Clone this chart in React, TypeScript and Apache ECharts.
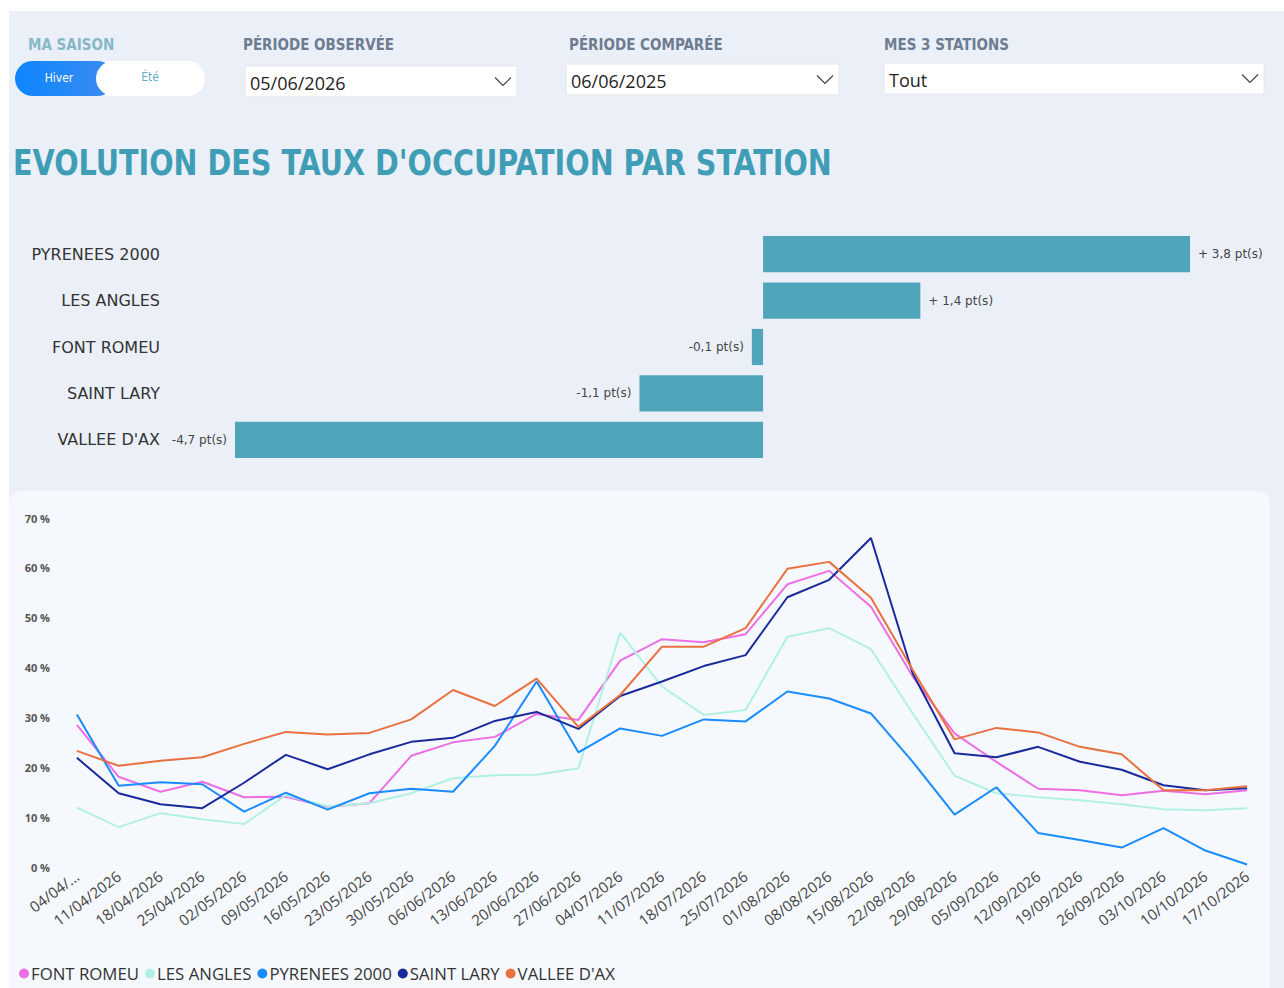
import React, { useEffect, useRef } from "react";
import * as echarts from "echarts";

const stations = ["PYRENEES 2000", "LES ANGLES", "FONT ROMEU", "SAINT LARY", "VALLEE D'AX"];
const deltas = [3.8, 1.4, -0.1, -1.1, -4.7];

const weeks = [
  "04/04/2026", "11/04/2026", "18/04/2026", "25/04/2026", "02/05/2026", "09/05/2026",
  "16/05/2026", "23/05/2026", "30/05/2026", "06/06/2026", "13/06/2026", "20/06/2026",
  "27/06/2026", "04/07/2026", "11/07/2026", "18/07/2026", "25/07/2026", "01/08/2026",
  "08/08/2026", "15/08/2026", "22/08/2026", "29/08/2026", "05/09/2026", "12/09/2026",
  "19/09/2026", "26/09/2026", "03/10/2026", "10/10/2026", "17/10/2026",
];

const fontRomeu = [28.5, 18.1, 15.1, 17.1, 14.0, 14.1, 12.1, 12.8, 22.3, 25.0, 26.1, 30.7, 29.5, 41.4, 45.7, 45.1, 46.7, 56.7, 59.4, 52.2, 38.2, 26.8, 21.1, 15.7, 15.4, 14.4, 15.3, 14.6, 15.4];
const lesAngles = [11.9, 8.0, 10.8, 9.6, 8.6, 14.4, 12.2, 12.8, 14.8, 17.8, 18.4, 18.5, 19.8, 47.0, 36.2, 30.5, 31.5, 46.2, 47.9, 43.7, 30.8, 18.3, 14.8, 14.0, 13.4, 12.6, 11.6, 11.4, 11.8];
const pyrenees2000 = [30.6, 16.3, 17.0, 16.6, 11.1, 14.9, 11.5, 14.8, 15.7, 15.1, 24.3, 37.2, 23.0, 27.8, 26.3, 29.6, 29.2, 35.2, 33.8, 30.8, 21.1, 10.5, 16.0, 6.8, 5.4, 3.9, 7.8, 3.3, 0.5];
const saintLary = [21.9, 14.8, 12.6, 11.8, 16.9, 22.5, 19.6, 22.6, 25.1, 25.9, 29.3, 31.1, 27.7, 34.3, 37.2, 40.3, 42.5, 54.1, 57.6, 66.0, 38.8, 22.8, 22.0, 24.1, 21.1, 19.5, 16.4, 15.4, 15.8];
const valleeDAx = [23.3, 20.3, 21.3, 22.0, 24.7, 27.1, 26.6, 26.9, 29.6, 35.5, 32.3, 37.8, 28.1, 34.5, 44.2, 44.2, 47.9, 59.8, 61.2, 54.0, 39.5, 25.6, 27.9, 27.0, 24.1, 22.6, 15.4, 15.4, 16.2];

const yTicks = [0, 70, 10];

const seriesDefs = [
  { name: "FONT ROMEU", data: fontRomeu, color: "#EC6FE4" },
  { name: "LES ANGLES", data: lesAngles, color: "#B2F0E4" },
  { name: "PYRENEES 2000", data: pyrenees2000, color: "#1A8CFF" },
  { name: "SAINT LARY", data: saintLary, color: "#1B2A9A" },
  { name: "VALLEE D'AX", data: valleeDAx, color: "#E8713F" },
];

const fmtDelta = (v: number) => {
  const s = Math.abs(v).toFixed(1).replace(".", ",");
  return v >= 0 ? "+ " + s + " pt(s)" : "-" + s + " pt(s)";
};

const COND = "'DejaVu Sans Condensed', 'DejaVu Sans', sans-serif";
const SANS = "'Open Sans', 'Noto Sans', sans-serif";
const DV = "'DejaVu Sans', sans-serif";

function dropdown(x: number, y: number, w: number, h: number, text: string) {
  return {
    type: "group",
    children: [
      { type: "rect", shape: { x, y, width: w, height: h }, style: { fill: "#FFFFFF", stroke: "#E3E6EA", lineWidth: 1 } },
      { type: "text", x: x + 5, y: y + h / 2 + 1, style: { text, font: `18px ${SANS}`, fill: "#252423", verticalAlign: "middle" } },
      {
        type: "polyline",
        shape: { points: [[x + w - 22, y + h / 2 - 4], [x + w - 14, y + h / 2 + 4], [x + w - 6, y + h / 2 - 4]] },
        style: { stroke: "#444", lineWidth: 1.2, fill: "none" },
      },
    ],
  };
}

export default function App() {
  const ref = useRef<HTMLDivElement>(null);
  useEffect(() => {
    document.body.style.margin = "0";
    const chart = echarts.init(ref.current!, null, { renderer: "svg" });
    const option: any = {
      animation: false,
      graphic: [
        { type: "rect", z: -10, shape: { x: 9, y: 11, width: 1275, height: 977 }, style: { fill: "#EBF0F8" } },
        { type: "rect", z: -9, shape: { x: 9, y: 491, width: 1261, height: 497, r: [12, 12, 0, 0] }, style: { fill: "#F5F8FD" } },
        { type: "text", x: 28, y: 45, style: { text: "MA SAISON", font: `bold 15px ${COND}`, fill: "#86B8C6", verticalAlign: "middle" } },
        { type: "text", x: 243, y: 45, style: { text: "PÉRIODE OBSERVÉE", font: `bold 15px ${COND}`, fill: "#6E7C91", verticalAlign: "middle" } },
        { type: "text", x: 569, y: 45, style: { text: "PÉRIODE COMPARÉE", font: `bold 15px ${COND}`, fill: "#6E7C91", verticalAlign: "middle" } },
        { type: "text", x: 884, y: 45, style: { text: "MES 3 STATIONS", font: `bold 15px ${COND}`, fill: "#6E7C91", verticalAlign: "middle" } },
        { type: "rect", shape: { x: 15, y: 61, width: 190, height: 35, r: 17.5 }, style: { fill: "#FFFFFF" } },
        {
          type: "rect",
          shape: { x: 15, y: 61, width: 100, height: 35, r: 17.5 },
          style: {
            fill: new echarts.graphic.LinearGradient(0, 0, 1, 0, [
              { offset: 0, color: "#0E86FF" },
              { offset: 1, color: "#3C8CF0" },
            ]),
          },
        },
        { type: "rect", shape: { x: 96, y: 61, width: 109, height: 35, r: 17.5 }, style: { fill: "#FFFFFF" } },
        { type: "text", x: 59, y: 78, style: { text: "Hiver", font: `12px ${COND}`, fill: "#FFFFFF", align: "center", verticalAlign: "middle" } },
        { type: "text", x: 150, y: 77, style: { text: "Été", font: `12px ${COND}`, fill: "#5FB0C2", align: "center", verticalAlign: "middle" } },
        dropdown(245, 66, 272, 31, "05/06/2026"),
        dropdown(566, 64, 273, 31, "06/06/2025"),
        dropdown(884, 63, 380, 31, "Tout"),
        {
          type: "text",
          x: 13,
          y: 162,
          scaleX: 0.885,
          style: { text: "EVOLUTION DES TAUX D'OCCUPATION PAR STATION", font: `bold 36px ${COND}`, fill: "#3F9DB6", verticalAlign: "middle" },
        },
      ],
      grid: [
        { left: 235, right: 94, top: 231, height: 232 },
        { left: 56, right: 16, top: 518, height: 349 },
      ],
      xAxis: [
        { type: "value", gridIndex: 0, min: -4.7, max: 3.8, show: false, splitLine: { show: false } },
        {
          type: "category",
          gridIndex: 1,
          data: weeks,
          boundaryGap: true,
          axisLine: { show: false },
          axisTick: { show: false },
          axisLabel: {
            rotate: 37,
            interval: 0,
            margin: 7,
            fontSize: 15,
            fontFamily: SANS,
            color: "#444",
            formatter: (v: string, i: number) => (i === 0 ? v.slice(0, 6) + "..." : v),
          },
        },
      ],
      yAxis: [
        {
          type: "category",
          gridIndex: 0,
          data: stations,
          inverse: true,
          axisLine: { show: false },
          axisTick: { show: false },
          axisLabel: { margin: 75, fontSize: 16, fontFamily: DV, color: "#333" },
        },
        {
          type: "value",
          gridIndex: 1,
          min: yTicks[0],
          max: yTicks[1],
          interval: yTicks[2],
          splitLine: { show: false },
          axisLine: { show: false },
          axisTick: { show: false },
          axisLabel: { formatter: "{value} %", fontSize: 11, fontWeight: "bold", fontFamily: SANS, color: "#555", margin: 6 },
        },
      ],
      legend: {
        left: 14,
        top: 960,
        icon: "circle",
        itemWidth: 10,
        itemHeight: 10,
        itemGap: 6,
        textStyle: { fontSize: 16.8, fontFamily: SANS, color: "#333", padding: [0, 0, 0, -3] },
        data: seriesDefs.map((s) => s.name),
      },
      series: [
        {
          type: "bar",
          xAxisIndex: 0,
          yAxisIndex: 0,
          barCategoryGap: "22%",
          itemStyle: { color: "#50A5BA" },
          data: deltas.map((v) => ({
            value: v,
            label: {
              show: true,
              position: v >= 0 ? "right" : "left",
              distance: 8,
              formatter: () => fmtDelta(v),
              fontSize: 12,
              fontFamily: DV,
              color: "#444",
            },
          })),
        },
        ...seriesDefs.map((s) => ({
          type: "line",
          name: s.name,
          xAxisIndex: 1,
          yAxisIndex: 1,
          data: s.data,
          showSymbol: false,
          symbol: "circle",
          lineStyle: { width: 2, color: s.color },
          itemStyle: { color: s.color },
        })),
      ],
    };
    chart.setOption(option);
    return () => chart.dispose();
  }, []);
  return <div ref={ref} style={{ width: 1284, height: 988 }} />;
}
